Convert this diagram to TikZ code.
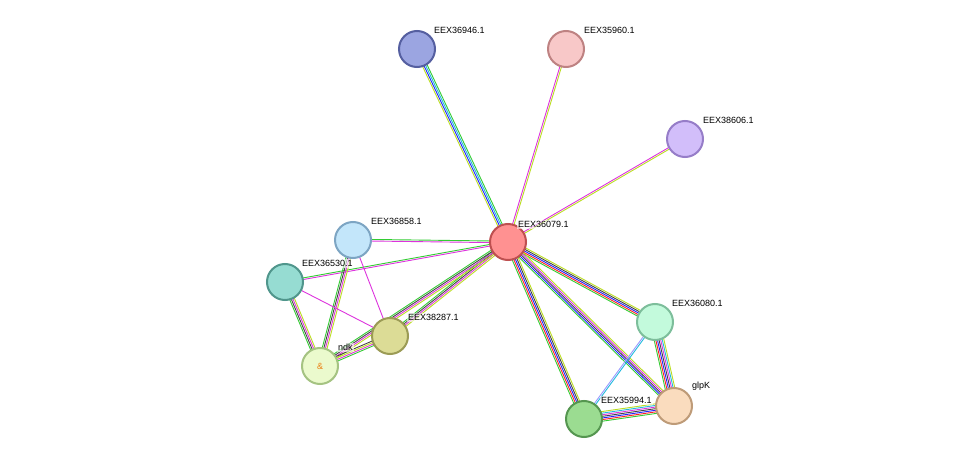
\documentclass[tikz,border=0pt]{standalone}
\usepackage{fontspec}
\setmainfont{Liberation Sans}
\usetikzlibrary{calc}
\definecolor{eg}{HTML}{33CC33}
\definecolor{er}{HTML}{FF2222}
\definecolor{eb}{HTML}{2222FF}
\definecolor{ek}{HTML}{444444}
\definecolor{em}{HTML}{DD33DD}
\definecolor{ec}{HTML}{22BBDD}
\definecolor{ey}{HTML}{BBDD22}
\definecolor{ev}{HTML}{9999FF}
\newcommand{\stredge}[3]{%
  \foreach \c [count=\i] in {#3}{\xdef\nn{\i}}%
  \foreach \c [count=\i] in {#3}{%
    \pgfmathsetmacro{\o}{(\i-(\nn+1)/2)*1.6}%
    \draw[\c,line width=0.9pt] ($(#1)!\o pt!90:(#2)$) -- ($(#2)!\o pt!-90:(#1)$);}}
\tikzset{prot/.style={circle,minimum size=36pt,line width=2pt,inner sep=0pt},
  lab/.style={font=\fontsize{9}{10}\selectfont,anchor=south west,inner sep=1pt,fill=white,fill opacity=0.6,text opacity=1}}
\begin{document}
\begin{tikzpicture}[x=1pt,y=-1pt]
\useasboundingbox (0,0) rectangle (975,465);
\coordinate (c) at (508,242);
\coordinate (a946) at (417,49);
\coordinate (a960) at (566,49);
\coordinate (a606) at (685,139);
\coordinate (a858) at (353,240);
\coordinate (a530) at (285,282);
\coordinate (a287) at (390,336);
\coordinate (ndk) at (320,366);
\coordinate (a080) at (655,322);
\coordinate (glpk) at (674,406);
\coordinate (a994) at (584,419);
\stredge{c}{a946}{eg,ec,eb,ey}
\stredge{c}{a960}{ey,em}
\stredge{c}{a606}{ey,em}
\stredge{c}{a858}{eg,em}
\stredge{c}{a530}{eg,em}
\stredge{c}{a287}{eg,ek,em,ey}
\stredge{c}{ndk}{eg,ek,em,ey}
\stredge{a858}{ndk}{eg,ek,em,ey}
\stredge{a858}{a287}{em}
\stredge{a530}{ndk}{eg,ek,em,ey}
\stredge{a530}{a287}{em}
\stredge{ndk}{a287}{eg,em,ey,ek}
\stredge{c}{a080}{eg,er,eb,ek,ey}
\stredge{c}{glpk}{eg,eb,ek,em,ey}
\stredge{c}{a994}{eg,er,eb,ek,ey}
\stredge{a080}{glpk}{eg,er,eb,ek,em,ec,ey}
\stredge{a080}{a994}{ev,ec}
\stredge{a994}{glpk}{eg,er,eb,ek,em,ec,ey}
\node[prot,fill={rgb,255:red,255;green,145;blue,145},draw={rgb,255:red,190;green,80;blue,80}] (n1) at (c) {};
\node[prot,fill={rgb,255:red,155;green,165;blue,225},draw={rgb,255:red,85;green,95;blue,160}] (n2) at (a946) {};
\node[prot,fill={rgb,255:red,248;green,200;blue,200},draw={rgb,255:red,190;green,130;blue,130}] (n3) at (a960) {};
\node[prot,fill={rgb,255:red,210;green,190;blue,250},draw={rgb,255:red,150;green,125;blue,200}] (n4) at (a606) {};
\node[prot,fill={rgb,255:red,195;green,230;blue,250},draw={rgb,255:red,125;green,165;blue,195}] (n5) at (a858) {};
\node[prot,fill={rgb,255:red,150;green,220;blue,210},draw={rgb,255:red,80;green,150;blue,140}] (n6) at (a530) {};
\node[prot,fill={rgb,255:red,220;green,220;blue,150},draw={rgb,255:red,155;green,155;blue,85}] (n7) at (a287) {};
\node[prot,fill={rgb,255:red,235;green,250;blue,205},draw={rgb,255:red,165;green,195;blue,130}] (n8) at (ndk) {\color{orange!70!brown}\small\&};
\node[prot,fill={rgb,255:red,195;green,250;blue,220},draw={rgb,255:red,125;green,190;blue,155}] (n9) at (a080) {};
\node[prot,fill={rgb,255:red,250;green,220;blue,190},draw={rgb,255:red,190;green,155;blue,120}] (n10) at (glpk) {};
\node[prot,fill={rgb,255:red,155;green,220;blue,145},draw={rgb,255:red,85;green,150;blue,80}] (n11) at (a994) {};
\node[lab] at (517,229) {EEX36079.1};
\node[lab] at (433,35) {EEX36946.1};
\node[lab] at (583,35) {EEX35960.1};
\node[lab] at (702,125) {EEX38606.1};
\node[lab] at (370,226) {EEX36858.1};
\node[lab] at (301,268) {EEX36530.1};
\node[lab] at (407,322) {EEX38287.1};
\node[lab] at (337,352) {ndk};
\node[lab] at (671,308) {EEX36080.1};
\node[lab] at (691,392) {glpK};
\node[lab] at (600,405) {EEX35994.1};
\end{tikzpicture}
\end{document}
